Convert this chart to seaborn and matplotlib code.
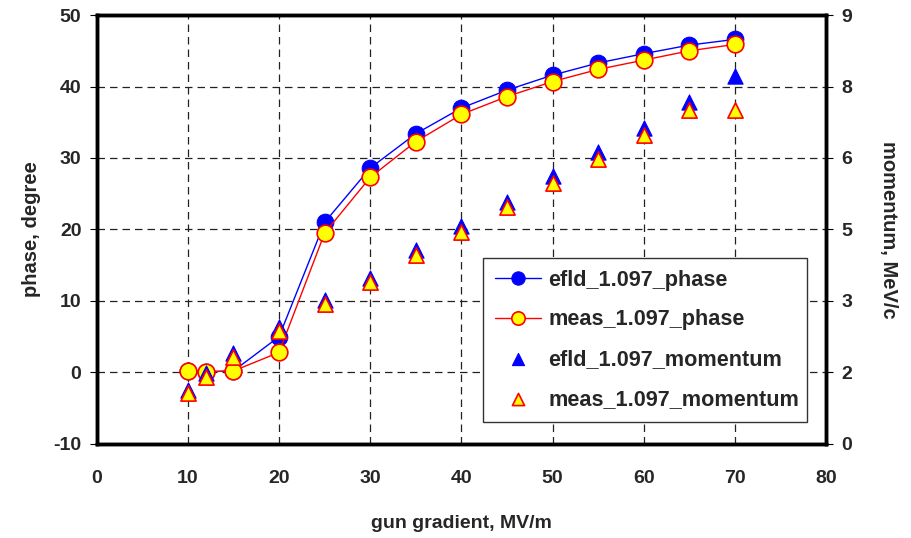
import seaborn as sns
import matplotlib.pyplot as plt

# gun gradient, MV/m
gradient = [10, 12, 15, 20, 25, 30, 35, 40, 45, 50, 55, 60, 65, 70]
# phase, degree (left axis)
efld_phase = [0.2, 0.1, 0.2, 5.0, 21.0, 28.6, 33.4, 37.0, 39.5, 41.6, 43.3, 44.6, 45.8, 46.6]
meas_phase = [0.2, 0.1, 0.2, 2.8, 19.5, 27.3, 32.3, 36.1, 38.6, 40.7, 42.4, 43.7, 45.0, 45.9]
# momentum, MeV/c (right axis)
efld_mom = [1.12, 1.49, 1.91, 2.45, 3.02, 3.48, 4.06, 4.58, 5.08, 5.62, 6.13, 6.64, 7.17, 7.72]
meas_mom = [1.06, 1.41, 1.83, 2.37, 2.94, 3.40, 3.96, 4.45, 4.97, 5.48, 5.98, 6.48, 7.01, 7.01]

# right axis ticks (Excel rounds the 1.5 steps)
mom_ticks = [0, 1.5, 3, 4.5, 6, 7.5, 9]
mom_labels = ['0', '2', '3', '5', '6', '8', '9']

sns.set_style('white')
plt.rcParams['font.family'] = ['Liberation Sans', 'DejaVu Sans']
plt.rcParams['font.weight'] = 'bold'
plt.rcParams['axes.unicode_minus'] = False

fig = plt.figure(figsize=(9.12, 5.38), dpi=100)
ax = fig.add_axes([0.106, 0.175, 0.8, 0.797])

sns.lineplot(x=gradient, y=efld_phase, ax=ax, color='blue', lw=1, marker='o',
             markersize=12, markerfacecolor='blue', markeredgecolor='blue',
             label='efld_1.097_phase', legend=False)
sns.lineplot(x=gradient, y=meas_phase, ax=ax, color='red', lw=1, marker='o',
             markersize=12, markerfacecolor='yellow', markeredgecolor='red',
             markeredgewidth=1.2, label='meas_1.097_phase', legend=False)

ax.set_xlim(0, 80)
ax.set_ylim(-10, 50)
ax.set_xticks(range(0, 81, 10))
ax.set_yticks(range(-10, 51, 10))
ax.grid(True, color='#222222', linestyle=(0, (6, 4)), lw=0.9)
ax.set_xlabel('gun gradient, MV/m', fontsize=14, fontweight='bold', labelpad=20)
ax.set_ylabel('phase, degree', fontsize=14.5, fontweight='bold', labelpad=9)

ax2 = ax.twinx()
sns.scatterplot(x=gradient, y=efld_mom, ax=ax2, marker='^', s=120, color='blue',
                edgecolor='blue', linewidth=0.8, label='efld_1.097_momentum', legend=False)
sns.scatterplot(x=gradient, y=meas_mom, ax=ax2, marker='^', s=120, color='yellow',
                edgecolor='red', linewidth=1.2, label='meas_1.097_momentum', legend=False)
ax2.set_ylim(0, 9)
ax2.set_yticks(mom_ticks)
ax2.set_yticklabels(mom_labels)
ax2.set_ylabel('momentum, MeV/c', fontsize=14.5, fontweight='bold', rotation=270, labelpad=33)

for a in (ax, ax2):
    for sp in a.spines.values():
        sp.set_color('black')
        sp.set_linewidth(2.5)
    a.tick_params(length=5, width=0.8, color='black', labelsize=14, direction='out', pad=6)
    for lab in a.get_xticklabels() + a.get_yticklabels():
        lab.set_fontweight('bold')
ax.tick_params(axis='x', pad=14)

h1, l1 = ax.get_legend_handles_labels()
h2, l2 = ax2.get_legend_handles_labels()
leg = ax2.legend(h1 + h2, l1 + l2, loc='lower left', bbox_to_anchor=(0.53, 0.052, 0.443, 0.38),
                 mode='expand', frameon=True, fancybox=False, framealpha=1,
                 edgecolor='#333333', fontsize=15.6, borderpad=0.55, labelspacing=0.86,
                 handlelength=2.1, handletextpad=0.35, borderaxespad=0, markerscale=0.8)
leg.get_frame().set_linewidth(1)
for t in leg.get_texts():
    t.set_fontweight('bold')

fig.savefig('out.png', dpi=100)
